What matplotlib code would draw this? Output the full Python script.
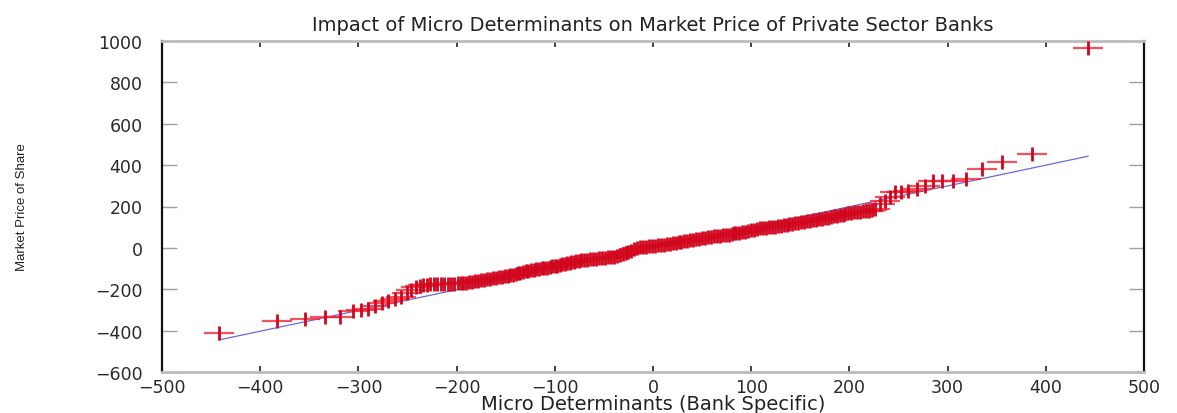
import matplotlib.pyplot as plt

# sorted micro-determinant quantiles (x) against market price of share (y)
micro_det = [
    -442, -383, -354, -334, -319, -305, -297, -290, -283, -276, -270, -263,
    -257, -251, -246, -241, -237, -234, -230, -227, -223, -220, -216, -213,
    -209, -206, -203, -199, -196, -193, -190, -187, -184, -181, -178, -175,
    -172, -169, -166, -163, -160, -157, -154, -151, -148, -146, -143, -140,
    -137, -135, -132, -129, -127, -124, -121, -119, -116, -113, -111, -108,
    -105, -103, -100, -98, -95, -93, -90, -88, -85, -83, -80, -78, -75, -73,
    -70, -67, -64, -61, -58, -55, -52, -49, -46, -43, -40, -37, -34, -31,
    -28, -25, -22, -19, -16, -13, -10, -7, -4, -1, 2, 5, 8, 11, 14, 17, 20,
    23, 26, 29, 32, 35, 38, 41, 44, 47, 50, 53, 56, 59, 62, 65, 68, 71, 74,
    77, 80, 82, 85, 88, 91, 94, 97, 100, 103, 106, 109, 112, 115, 118, 121,
    124, 127, 130, 133, 136, 139, 142, 145, 148, 151, 154, 157, 160, 163,
    166, 169, 172, 175, 178, 181, 184, 187, 190, 193, 196, 199, 202, 205,
    208, 211, 214, 217, 220, 223, 226, 231, 236, 241, 246, 253, 260, 269,
    277, 285, 294, 306, 319, 335, 355, 386, 443,
]
market_price = [
    -410, -352, -345, -335, -332, -304, -299, -296, -282, -267, -255, -247,
    -239, -218, -202, -191, -183, -178, -178, -177, -177, -177, -176, -176,
    -176, -175, -174, -172, -171, -170, -168, -166, -164, -162, -159, -156,
    -154, -152, -150, -147, -145, -143, -140, -138, -135, -132, -129, -126,
    -123, -120, -116, -113, -111, -108, -105, -103, -101, -99, -97, -95,
    -92, -90, -88, -86, -83, -80, -77, -74, -71, -69, -66, -64, -62, -60,
    -58, -57, -55, -54, -52, -51, -50, -48, -46, -44, -42, -39, -35, -31,
    -26, -20, -13, -7, -2, 2, 4, 6, 8, 9, 10, 12, 14, 16, 18, 20, 22,
    24, 26, 28, 31, 33, 36, 38, 41, 44, 47, 50, 52, 54, 55, 57, 58, 60, 62,
    64, 67, 70, 72, 74, 76, 78, 81, 84, 88, 91, 94, 96, 98, 100, 101,
    103, 105, 107, 109, 112, 114, 117, 119, 121, 124, 127, 129, 131, 133,
    136, 138, 140, 143, 146, 149, 152, 155, 158, 161, 164, 167, 169, 171,
    173, 175, 177, 178, 180, 183, 187, 212, 228, 244, 268, 268, 276, 284,
    298, 322, 325, 325, 333, 382, 417, 454, 965,
]

# reference line
ref_x = [-442, 443]
ref_y = [-445, 443]

x_ticks = list(range(-500, 501, 100))
y_ticks = list(range(-600, 1001, 200))

W, H = 1177, 414
fig = plt.figure(figsize=(W / 100, H / 100), dpi=100)
ax = fig.add_axes([162 / W, 1 - 373 / H, (1144 - 162) / W, (373 - 42) / H])

ax.plot(ref_x, ref_y, color='#6a6ae0', lw=0.9, zorder=2)
# gnuplot-like '+' points: wide horizontal arm, short vertical arm
ax.plot(micro_det, market_price, ls='none', marker='_', ms=21, mew=1.6,
        color='#f02838', alpha=0.8, zorder=3)
ax.plot(micro_det, market_price, ls='none', marker='|', ms=10, mew=2.0,
        color='#d0061e', zorder=4)

ax.set_xlim(-500, 500)
ax.set_ylim(-600, 1000)
ax.set_xticks(x_ticks)
ax.set_yticks(y_ticks)

for side in ['left', 'right']:
    ax.spines[side].set_color('#111111')
    ax.spines[side].set_linewidth(1.6)
for side in ['top', 'bottom']:
    ax.spines[side].set_color('#bbbbbb')
    ax.spines[side].set_linewidth(2)

ax.tick_params(axis='x', direction='in', top=True, length=4, width=1.3,
               color='#333333', labelsize=12.5, labelcolor='#2a2a2a', pad=4)
ax.tick_params(axis='y', direction='in', right=True, length=11, width=1,
               color='#a0a0a0', labelsize=12.5, labelcolor='#2a2a2a', pad=14)

ax.set_title('Impact of Micro Determinants on Market Price of Private Sector Banks',
             fontsize=14, color='#222222', pad=8)
ax.set_xlabel('Micro Determinants (Bank Specific)', fontsize=14,
              color='#222222', labelpad=-1)
fig.text(22 / W, 1 - 207 / H, 'Market Price of Share', rotation=90,
         ha='center', va='center', fontsize=9.5, color='#222222',
         family=['Liberation Sans Narrow', 'Liberation Sans', 'DejaVu Sans'])

fig.savefig('out.png', dpi=100)
